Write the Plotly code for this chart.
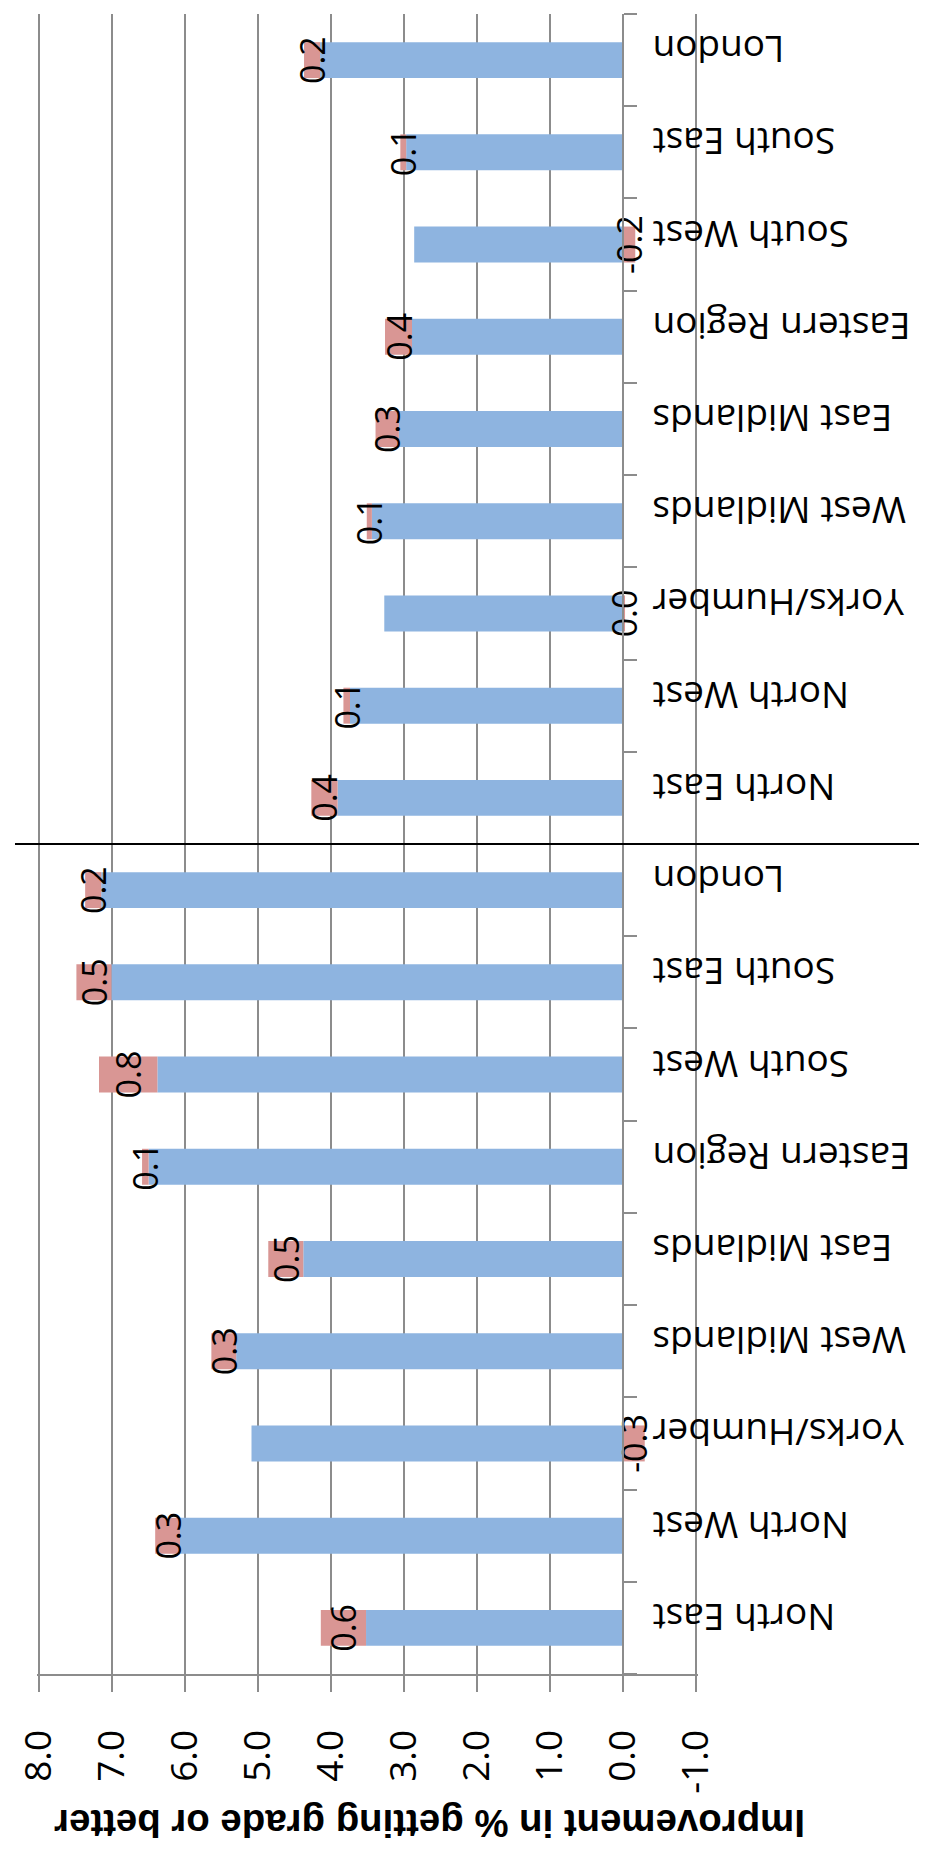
import plotly.graph_objects as go

# ---- data ----
regions = ["North East", "North West", "Yorks/Humber", "West Midlands", "East Midlands",
           "Eastern Region", "South West", "South East", "London"]

lower_base = [3.52, 6.07, 5.09, 5.30, 4.38, 6.50, 6.38, 7.01, 7.15]
lower_change = [0.62, 0.34, -0.30, 0.34, 0.48, 0.09, 0.80, 0.48, 0.22]

upper_base = [3.91, 3.74, 3.27, 3.44, 3.07, 2.89, 2.86, 2.97, 4.15]
upper_change = [0.36, 0.09, -0.03, 0.07, 0.32, 0.37, -0.17, 0.08, 0.22]

value_min, value_max, value_step = -1.0, 8.0, 1.0
axis_title = "Improvement in % getting grade or better"

# ---- styling ----
FONT = "Open Sans, Liberation Sans, sans-serif"
TITLE_FONT = "Liberation Sans, Arial, sans-serif"
BLUE = "#8EB4E0"
RED = "#D99694"
GRID = "#8C8C8C"

cats = regions + regions
ypos = list(range(len(cats)))
base = lower_base + upper_base
change = lower_change + upper_change
labels = [("%.1f" % v).replace("-0.0", "0.0") for v in change]

n_ticks = int(round((value_max - value_min) / value_step)) + 1
tick_values = [value_min + i * value_step for i in range(n_ticks)]
tick_text = ["%.1f" % v for v in tick_values]

pad = 0.03
x_range = [value_max + pad, value_min - pad]

fig = go.Figure()
fig.add_trace(go.Bar(
    y=ypos, x=base, orientation="h", width=0.39,
    marker=dict(color=BLUE, line=dict(width=0)),
    hoverinfo="x",
))
fig.add_trace(go.Bar(
    y=ypos, x=change, orientation="h", width=0.39,
    marker=dict(color=RED, line=dict(width=0)),
    text=labels, textposition="inside", insidetextanchor="middle",
    textangle=-90, constraintext="none",
    insidetextfont=dict(color="black", size=34, family=FONT),
    cliponaxis=False, hoverinfo="x",
))

fig.update_layout(
    barmode="relative",
    width=927, height=1852,
    margin=dict(l=29, r=237, t=6, b=186),
    plot_bgcolor="white", paper_bgcolor="white",
    showlegend=False,
)

fig.update_xaxes(
    range=x_range,
    tickmode="array", tickvals=tick_values, ticktext=tick_text,
    ticks="outside", ticklen=16, tickwidth=2, tickcolor=GRID,
    showline=True, linecolor=GRID, linewidth=2,
    showgrid=True, gridcolor=GRID, gridwidth=2,
    zeroline=False,
    tickangle=-90,
    tickfont=dict(size=37, family=FONT, color="black"),
    ticklabelstandoff=23,
    automargin=False,
)

fig.update_yaxes(
    range=[-0.5, len(cats) - 0.5],
    tickmode="array", tickvals=ypos, ticktext=cats,
    ticks="",
    showgrid=False, zeroline=False,
    showline=True, linecolor=GRID, linewidth=2,
    anchor="free", position=x_range[0] / (x_range[0] - x_range[1]), side="left",
    tickangle=180,
    ticklabelstandoff=-38,
    tickfont=dict(size=37, family=FONT, color="black"),
    minor=dict(tickmode="array", tickvals=[i - 0.5 for i in range(len(cats) + 1)],
               ticks="inside", ticklen=13, tickwidth=2, tickcolor=GRID, showgrid=False),
    automargin=False,
)

# separator between the two groups
fig.add_shape(type="line", xref="paper", yref="y",
              x0=-0.0333, x1=1.3585, y0=len(regions) - 0.5, y1=len(regions) - 0.5,
              line=dict(color="black", width=2))

fig.add_annotation(text="<b>" + axis_title + "</b>", textangle=180,
                   xref="paper", yref="paper", x=0.593, y=-0.09,
                   xanchor="center", yanchor="middle", showarrow=False,
                   font=dict(size=38.4, family=TITLE_FONT, color="black"))

fig.write_html("out.html")
